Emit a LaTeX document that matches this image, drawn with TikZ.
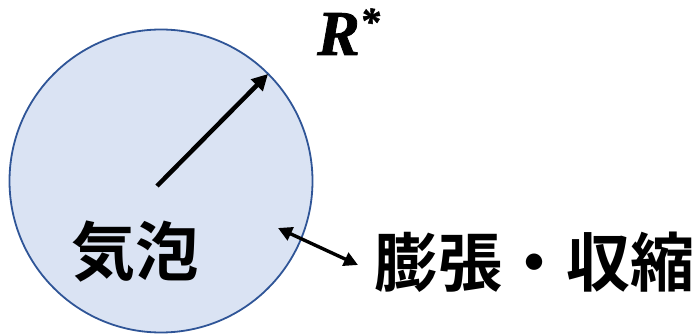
\documentclass[tikz,border=0pt]{standalone}
\usepackage{fontspec}
\newfontfamily\cjk{Noto Sans CJK JP Bold}
\newfontfamily\tmsbi{Liberation Serif Bold Italic}[FakeBold=1.2]
\usetikzlibrary{arrows.meta}
\definecolor{bubfill}{HTML}{DAE3F3}
\definecolor{bubline}{HTML}{2F5597}
\begin{document}
\begin{tikzpicture}[x=1pt,y=-1pt,
  lbl/.style={inner sep=0pt,font=\cjk\fontsize{64}{64}\selectfont},
  arr/.style={line width=4.5pt,-{Triangle[length=16pt,width=16pt]}}]
\useasboundingbox (0,0) rectangle (697,334);
\node[circle,draw=bubline,fill=bubfill,line width=1.8pt,minimum size=303pt,inner sep=0pt] (bub) at (161,181) {};
\coordinate (c) at (157,186);
\coordinate (e) at (268,74);
\draw[arr] (c) -- (e);
\node[inner sep=0pt,anchor=base west,font=\tmsbi\fontsize{64}{64}\selectfont] (R) at (317,55) {R\raisebox{20pt}{\fontsize{40}{40}\selectfont *}};
\node[lbl,anchor=base west] (bub-txt) at (71,276) {気泡};
\node[lbl,anchor=base west] (exp) at (374,287) {膨張・収縮};
\coordinate (a1) at (278,228);
\coordinate (a2) at (358,265);
\draw[line width=3.4pt,{Triangle[length=14pt,width=14pt]}-{Triangle[length=14pt,width=14pt]}] (a1) -- (a2);
\end{tikzpicture}
\end{document}
